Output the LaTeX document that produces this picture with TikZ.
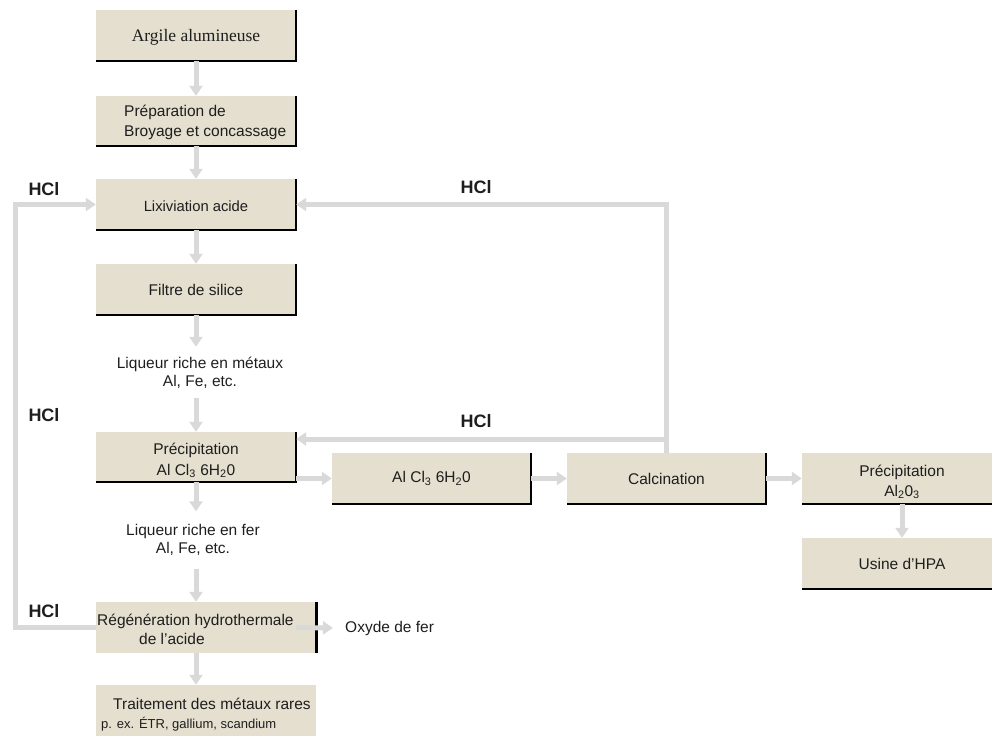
\documentclass[tikz,border=0pt]{standalone}
\usepackage{fontspec}
\setmainfont{Liberation Sans}
\newfontfamily\serifface{Liberation Serif}
\usetikzlibrary{arrows.meta,calc}
\definecolor{boxfill}{RGB}{228,223,206}
\definecolor{arrgray}{RGB}{217,217,217}
\definecolor{txt}{RGB}{30,30,30}
\begin{document}
\begin{tikzpicture}[x=1pt,y=-1pt,
  box/.style={fill=boxfill, draw=none, inner sep=0pt, minimum width=200pt, minimum height=51pt, text=txt, align=center, font=\fontsize{15.5}{19}\selectfont},
  lbl/.style={inner sep=0pt, text=txt, align=center, font=\fontsize{15.5}{18}\selectfont},
  hcl/.style={inner sep=0pt, text=txt, font=\bfseries\fontsize{18}{20}\selectfont},
  arr/.style={draw=arrgray, line width=5pt, -{Triangle[width=13pt,length=10pt]}},
  edgeline/.style={draw=black, line width=1.5pt},
]
\useasboundingbox (0,0) rectangle (992,736);

% boxes
\node[box, font=\serifface\fontsize{17.5}{19}\selectfont] (arg) at (196,35.5) {\rule{0pt}{15pt}Argile alumineuse};
\node[box, minimum height=50pt] (prep) at (196,121) {};
\node[box, font=\fontsize{14.8}{19}\selectfont] (lix) at (196,204.5) {\rule{0pt}{14pt}Lixiviation acide};
\node[box] (fil) at (196,289.5) {Filtre de silice};
\node[box, minimum height=50pt] (pre) at (196,457) {\rule{0pt}{18pt}Précipitation\\[2pt]Al Cl\textsubscript{3} 6H\textsubscript{2}0};
\node[box, minimum width=220pt] (reg) at (206,627.5) {};
\node[box, minimum width=220pt] (tra) at (206,710.5) {};
\node[box, minimum width=199pt] (alc) at (431.5,478.5) {Al Cl\textsubscript{3} 6H\textsubscript{2}0};
\node[box, minimum width=199pt] (cal) at (666.5,478.5) {Calcination};
\node[box] (pal) at (902,478.5) {\rule{0pt}{18pt}Précipitation\\[1pt]Al\textsubscript{2}0\textsubscript{3}};
\node[box] (usi) at (902,563.5) {Usine d’HPA};

% box shadow edges
\foreach \n in {arg,prep,lix,fil,pre,alc,cal,pal,usi}
  \draw[edgeline] (\n.north east) -- (\n.south east) -- (\n.south west);
\draw[black, line width=3pt] (reg.north east) -- (reg.south east);

% texts
\node[lbl, anchor=west, align=left, font=\fontsize{15.5}{20}\selectfont] (preptxt) at (124,122) {Préparation de\\Broyage et concassage};
\node[lbl, minimum height=51pt] (liq1) at (200,372.5) {Liqueur riche en métaux\\Al, Fe, etc.};
\node[lbl, minimum height=57pt] (liq2) at (193,540) {Liqueur riche en fer\\Al, Fe, etc.};
\node[lbl, anchor=west, align=left, font=\fontsize{15.5}{19}\selectfont] (regtxt) at (97,629) {Régénération hydrothermale\\\hspace*{42pt}de l’acide};
\node[lbl, anchor=west, align=left, font=\fontsize{15.5}{19}\selectfont] (tratxt) at (101,715) {\hspace*{12pt}Traitement des métaux rares\\{\fontsize{13}{15}\selectfont p. ex. ÉTR, gallium, scandium}};
\node[lbl, anchor=west] (oxy) at (345,628) {Oxyde de fer};

\node[hcl] (h1) at (44,189) {HCl};
\node[hcl] (h2) at (44,415) {HCl};
\node[hcl] (h3) at (44,611) {HCl};
\node[hcl] (h4) at (476,187) {HCl};
\node[hcl] (h5) at (476,421) {HCl};

% main vertical flow
\draw[arr] (arg.south) -- (prep.north);
\draw[arr] (prep.south) -- (lix.north);
\draw[arr] (lix.south) -- (fil.north);
\draw[arr] (fil.south) -- (fil.south |- liq1.north);
\draw[arr] (liq1.south -| pre.north) -- (pre.north);
\draw[arr] (pre.south) -- (pre.south |- liq2.north);
\draw[arr] (liq2.south -| pre.south) -- (reg.north -| pre.south);
\draw[arr] (reg.south -| pre.south) -- (tra.north -| pre.south);

% horizontal flow
\draw[arr] (pre.east |- alc.west) -- (alc.west);
\draw[arr] (alc.east) -- (cal.west);
\draw[arr] (cal.east) -- (pal.west);
\draw[arr] (pal.south) -- (usi.north);
\draw[arr] ([xshift=-20pt]reg.east) -- ([xshift=-12pt]oxy.west);

% HCl recycling loops
\coordinate (lx) at (15,400);
\draw[arr] (reg.west) -- (reg.west -| lx) |- (lix.west);
\coordinate (j1) at (666.5,439);
\draw[arr] (cal.north) -- (cal.north |- lix.east) -- (lix.east);
\draw[arr] (j1) -- (j1 -| pre.east);
\end{tikzpicture}
\end{document}
